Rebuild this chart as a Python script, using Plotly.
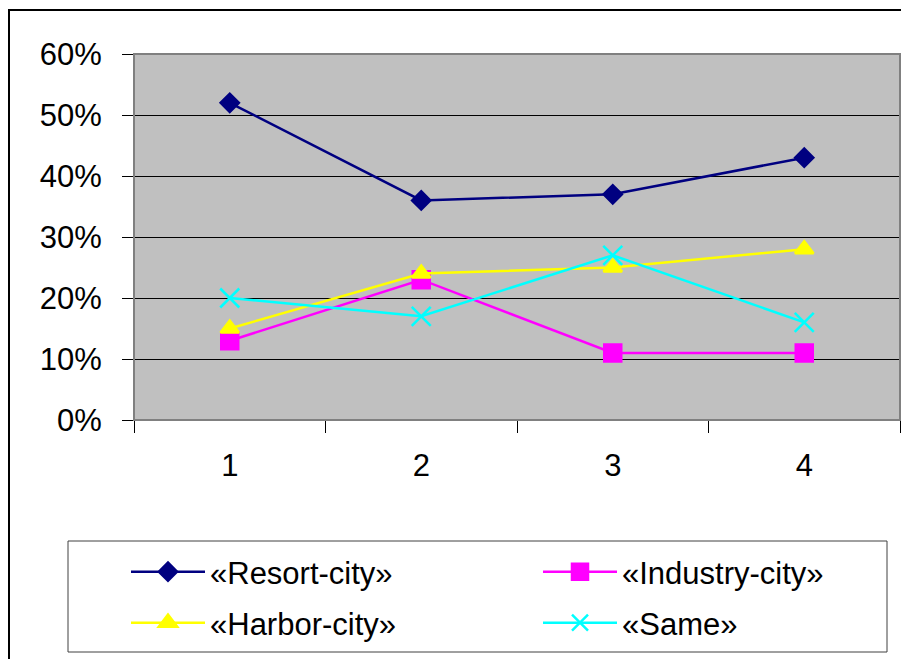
import plotly.graph_objects as go

categories = ["1", "2", "3", "4"]
resort = [0.52, 0.36, 0.37, 0.43]
industry = [0.13, 0.23, 0.11, 0.11]
harbor = [0.15, 0.24, 0.25, 0.28]
same = [0.20, 0.17, 0.27, 0.16]
y_ticks = [0, 0.1, 0.2, 0.3, 0.4, 0.5, 0.6]

# page body has an 8px margin; work in figure coordinates (screen - 8)
OFF = 8
W, H = 909 - OFF, 659 - OFF
L, R, T, B = 134 - OFF, 900 - OFF, 54 - OFF, 420 - OFF
pw, ph = R - L, B - T


def px(x):
    return (x - OFF - L) / pw


def py(y):
    return (B - (y - OFF)) / ph


series = [
    ("«Resort-city»", resort, "#000080", "diamond", 14, "legend"),
    ("«Industry-city»", industry, "#FF00FF", "square", 17, "legend2"),
    ("«Harbor-city»", harbor, "#FFFF00", "triangle-up", 16, "legend3"),
    ("«Same»", same, "#00FFFF", "x-thin-open", 19, "legend4"),
]

fig = go.Figure()
for name, vals, col, sym, sz, leg in series:
    fig.add_trace(go.Scatter(
        x=categories, y=vals, name=name, mode="lines+markers",
        line=dict(color=col, width=2.5),
        marker=dict(symbol=sym, size=sz, color=col, line=dict(color=col, width=2.5)),
        legend=leg,
    ))

leg_common = dict(
    orientation="h", xanchor="left", yanchor="middle",
    itemwidth=74, font=dict(size=31), bgcolor="rgba(0,0,0,0)",
    borderwidth=0, traceorder="normal",
)

fig.update_layout(
    width=W, height=H,
    margin=dict(l=L, r=W - R, t=T, b=H - B, pad=0),
    paper_bgcolor="white", plot_bgcolor="#C0C0C0",
    font=dict(family="Liberation Sans, Arial, sans-serif", size=31, color="black"),
    showlegend=True,
    legend=dict(x=px(126), y=py(572), **leg_common),
    legend2=dict(x=px(538), y=py(572), **leg_common),
    legend3=dict(x=px(126), y=py(623), **leg_common),
    legend4=dict(x=px(538), y=py(623), **leg_common),
    shapes=[
        dict(type="rect", xref="paper", yref="paper", x0=px(9), x1=px(960), y0=py(720), y1=py(10),
             line=dict(color="black", width=2), fillcolor="rgba(0,0,0,0)", layer="below"),
        dict(type="rect", xref="paper", yref="paper", x0=0, x1=1, y0=0, y1=1,
             line=dict(color="#808080", width=2), fillcolor="rgba(0,0,0,0)", layer="above"),
        dict(type="rect", xref="paper", yref="paper", x0=px(68), x1=px(887), y0=py(652), y1=py(541),
             line=dict(color="#404040", width=1), fillcolor="rgba(0,0,0,0)"),
    ],
)

fig.update_xaxes(
    type="category", range=[-0.5, 3.5], showgrid=False,
    showline=True, linecolor="black", linewidth=1,
    ticks="outside", tickson="boundaries", ticklen=12, tickcolor="black",
    ticklabelstandoff=18, zeroline=False,
)
fig.update_yaxes(
    range=[0, 0.6], tickvals=y_ticks, tickformat=".0%",
    showgrid=True, gridcolor="black", gridwidth=1,
    showline=True, linecolor="black", linewidth=1,
    ticks="outside", ticklen=11, tickcolor="black",
    ticklabelstandoff=14, zeroline=False,
)

fig.write_html("out.html")
